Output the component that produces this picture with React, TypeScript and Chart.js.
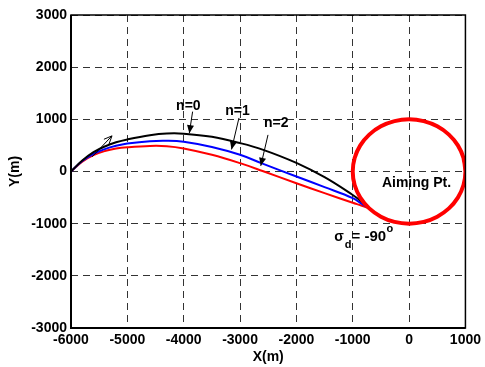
import React, { useEffect, useRef } from "react";
import { Chart, registerables } from "chart.js";

Chart.register(...registerables);

// Axis ticks
const xTicks = [-6000, -5000, -4000, -3000, -2000, -1000, 0, 1000];
const yTicks = [-3000, -2000, -1000, 0, 1000, 2000, 3000];

// Trajectories (x in m)
const trajX = [-6000, -5800, -5600, -5400, -5200, -5000, -4600, -4300, -4000, -3500, -3000, -2600, -2000, -1500, -1000, -850, -707];
const yN0 = [0, 210, 370, 480, 560, 615, 695, 728, 725, 665, 545, 420, 165, -110, -450, -570, -707];
const yN1 = [0, 200, 340, 430, 492, 535, 582, 590, 570, 470, 320, 150, -95, -300, -510, -610, -707];
const yN2 = [0, 190, 315, 392, 440, 465, 490, 485, 442, 320, 160, 10, -225, -415, -600, -652, -707];

// Aiming point circle (r = 1000 m)
const circleX = [1000, 966, 866, 707, 500, 259, 0, -259, -500, -707, -866, -966, -1000, -966, -866, -707, -500, -259, 0, 259, 500, 707, 866, 966, 1000, 966];
const circleY = [0, 259, 500, 707, 866, 966, 1000, 966, 866, 707, 500, 259, 0, -259, -500, -707, -866, -966, -1000, -966, -866, -707, -500, -259, 0, 259];

// Annotations (data coordinates)
const labelText = ["n=0", "n=1", "n=2", "Aiming Pt."];
const labelX = [-3917, -3046, -2359, 132];
const labelY = [1257, 1152, 926, -217];

const arrowX1 = [-3842, -3019, -2504, -5625];
const arrowY1 = [1148, 1027, 702, 281];
const arrowX2 = [-3900, -3151, -2632, -5273];
const arrowY2 = [734, 424, 108, 683];
const arrowFilled = [true, true, true, false];

const sigmaX = -1329;
const sigmaY = -1328;

const FONT = 'Arial, "Liberation Sans", sans-serif';

const toPts = (xs: number[], ys: number[]) => xs.map((v, i) => ({ x: v, y: ys[i] }));

const annotPlugin = {
  id: "annot",
  afterDatasetsDraw(chart: any) {
    const { ctx, chartArea, scales } = chart;
    const xs = scales.x;
    const ys = scales.y;
    ctx.save();

    // frame
    ctx.strokeStyle = "#000";
    ctx.lineWidth = 1.5;
    ctx.strokeRect(chartArea.left, chartArea.top, chartArea.right - chartArea.left, chartArea.bottom - chartArea.top);
    ctx.lineWidth = 2;
    ctx.beginPath();
    ctx.moveTo(chartArea.left, chartArea.top);
    ctx.lineTo(chartArea.left, chartArea.bottom);
    ctx.lineTo(chartArea.right, chartArea.bottom);
    ctx.stroke();

    // arrows
    ctx.lineWidth = 1;
    ctx.strokeStyle = "#000";
    ctx.fillStyle = "#000";
    for (let i = 0; i < arrowX1.length; i++) {
      const x1 = xs.getPixelForValue(arrowX1[i]);
      const y1 = ys.getPixelForValue(arrowY1[i]);
      const x2 = xs.getPixelForValue(arrowX2[i]);
      const y2 = ys.getPixelForValue(arrowY2[i]);
      const ang = Math.atan2(y2 - y1, x2 - x1);
      const hl = 8;
      const hw = 3.5;
      ctx.beginPath();
      ctx.moveTo(x1, y1);
      ctx.lineTo(x2, y2);
      ctx.stroke();
      const bx = x2 - hl * Math.cos(ang);
      const by = y2 - hl * Math.sin(ang);
      const px = -Math.sin(ang) * hw;
      const py = Math.cos(ang) * hw;
      ctx.beginPath();
      ctx.moveTo(bx + px, by + py);
      ctx.lineTo(x2, y2);
      ctx.lineTo(bx - px, by - py);
      if (arrowFilled[i]) {
        ctx.closePath();
        ctx.fill();
      } else {
        ctx.stroke();
      }
    }

    // labels
    ctx.font = `bold 14px ${FONT}`;
    ctx.textAlign = "center";
    ctx.textBaseline = "middle";
    for (let i = 0; i < labelText.length; i++) {
      ctx.fillText(labelText[i], xs.getPixelForValue(labelX[i]), ys.getPixelForValue(labelY[i]));
    }

    // sigma_d = -90 deg
    let sx = xs.getPixelForValue(sigmaX);
    const sy = ys.getPixelForValue(sigmaY);
    ctx.textAlign = "left";
    ctx.textBaseline = "alphabetic";
    ctx.font = `bold 14px ${FONT}`;
    ctx.fillText("σ", sx, sy);
    sx += ctx.measureText("σ").width + 1;
    ctx.font = `bold 11px ${FONT}`;
    ctx.fillText("d", sx, sy + 7);
    sx += ctx.measureText("d").width;
    ctx.font = `bold 15px ${FONT}`;
    ctx.fillText("= -90", sx, sy);
    sx += ctx.measureText("= -90").width + 0.5;
    ctx.font = `bold 11px ${FONT}`;
    ctx.fillText("o", sx, sy - 9);

    ctx.restore();
  },
};

export default function App() {
  const ref = useRef<HTMLCanvasElement | null>(null);

  useEffect(() => {
    if (!ref.current) return;
    const gridOpts = { color: "rgba(0,0,0,0.8)", lineWidth: 1, drawTicks: false };
    const chart = new Chart(ref.current, {
      type: "scatter",
      data: {
        datasets: [
          {
            data: toPts(circleX, circleY),
            showLine: true,
            borderColor: "#ff0000",
            borderWidth: 4,
            pointRadius: 0,
            tension: 0.4,
            order: 0,
          },
          {
            data: toPts(trajX, yN0),
            showLine: true,
            borderColor: "#000000",
            borderWidth: 2,
            pointRadius: 0,
            tension: 0.4,
            order: 1,
          },
          {
            data: toPts(trajX, yN1),
            showLine: true,
            borderColor: "#0000ff",
            borderWidth: 2,
            pointRadius: 0,
            tension: 0.4,
            order: 2,
          },
          {
            data: toPts(trajX, yN2),
            showLine: true,
            borderColor: "#ff0000",
            borderWidth: 2,
            pointRadius: 0,
            tension: 0.4,
            order: 3,
          },
        ],
      } as any,
      options: {
        responsive: false,
        maintainAspectRatio: false,
        devicePixelRatio: 1,
        animation: false,
        layout: { padding: { left: 0, right: 17, top: 15, bottom: 0 } },
        plugins: { legend: { display: false }, tooltip: { enabled: false } },
        scales: {
          x: {
            type: "linear",
            min: -6000,
            max: 1000,
            afterBuildTicks: (s: any) => {
              s.ticks = xTicks.map((v) => ({ value: v }));
            },
            afterFit: (s: any) => {
              s.height = 39;
            },
            ticks: {
              color: "#000",
              font: { family: FONT, size: 14, weight: "bold" },
              padding: 4,
              maxRotation: 0,
              autoSkip: false,
              callback: (v: any) => String(v),
            },
            grid: gridOpts,
            border: { display: false, dash: [7, 5] },
            title: {
              display: true,
              text: "X(m)",
              color: "#000",
              font: { family: FONT, size: 14, weight: "bold" },
              padding: { top: 0, bottom: 1 },
            },
          },
          y: {
            type: "linear",
            min: -3000,
            max: 3000,
            afterBuildTicks: (s: any) => {
              s.ticks = yTicks.map((v) => ({ value: v }));
            },
            afterFit: (s: any) => {
              s.width = 71;
            },
            ticks: {
              color: "#000",
              font: { family: FONT, size: 14, weight: "bold" },
              padding: 4,
              autoSkip: false,
              callback: (v: any) => String(v),
            },
            grid: gridOpts,
            border: { display: false, dash: [7, 5] },
            title: {
              display: true,
              text: "Y(m)",
              color: "#000",
              font: { family: FONT, size: 14, weight: "bold" },
              padding: { top: 7, bottom: 0 },
            },
          },
        },
      } as any,
      plugins: [annotPlugin],
    });
    return () => chart.destroy();
  }, []);

  return (
    <div style={{ position: "fixed", left: 0, top: 0, width: 485, height: 367, background: "#fff" }}>
      <canvas ref={ref} width={485} height={367} style={{ display: "block", width: 485, height: 367 }} />
    </div>
  );
}
